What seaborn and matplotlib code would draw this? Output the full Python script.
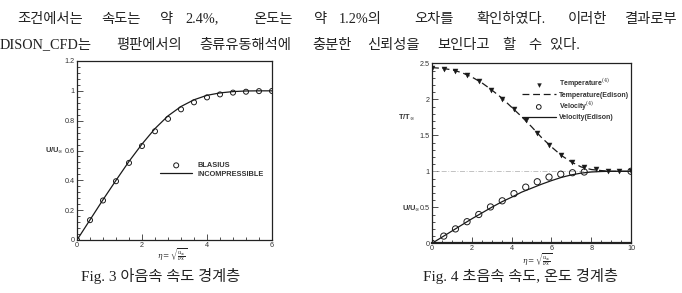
import numpy as np
import pandas as pd
import matplotlib
matplotlib.use("Agg")
import matplotlib.pyplot as plt
import seaborn as sns
from matplotlib.ticker import MultipleLocator

# ---------------- data: Fig. 3 (subsonic velocity boundary layer) ----------------
blasius_eta = [0.0, 0.4, 0.8, 1.2, 1.6, 2.0, 2.4, 2.8, 3.2, 3.6, 4.0, 4.4, 4.8, 5.2, 5.6, 6.0]
blasius_u = [0.0, 0.133, 0.265, 0.394, 0.517, 0.630, 0.729, 0.812, 0.876, 0.923, 0.956,
             0.976, 0.988, 0.994, 0.998, 0.999]
incomp_eta = [0.0, 0.4, 0.8, 1.2, 1.6, 2.0, 2.4, 2.8, 3.2, 3.6, 4.0, 4.4, 4.8, 5.2, 5.6, 6.0]
incomp_u = [0.0, 0.135, 0.270, 0.400, 0.527, 0.643, 0.747, 0.832, 0.895, 0.940, 0.970,
            0.986, 0.995, 0.999, 1.0, 1.0]

# ---------------- data: Fig. 4 (supersonic velocity / temperature) ----------------
temp_ref_eta = [0.0, 0.59, 1.18, 1.76, 2.35, 2.94, 3.53, 4.12, 4.71, 5.29, 5.88, 6.47,
                7.06, 7.65, 8.24, 8.82, 9.41, 10.0]
temp_ref = [2.435, 2.42, 2.39, 2.34, 2.25, 2.13, 2.00, 1.865, 1.71, 1.53, 1.37, 1.23,
            1.125, 1.06, 1.03, 1.01, 1.01, 1.0]
temp_cfd_eta = [0.0, 0.5, 1.0, 1.5, 2.0, 2.5, 3.0, 3.5, 4.0, 4.5, 5.0, 5.5, 6.0, 6.5,
                7.0, 7.5, 8.0, 8.5, 9.0, 9.5, 10.0]
temp_cfd = [2.44, 2.43, 2.41, 2.37, 2.31, 2.23, 2.13, 2.02, 1.89, 1.76, 1.62, 1.47, 1.34,
            1.22, 1.13, 1.06, 1.025, 1.01, 1.0, 1.0, 1.0]
vel_ref_eta = [0.0, 0.59, 1.18, 1.76, 2.35, 2.94, 3.53, 4.12, 4.71, 5.29, 5.88, 6.47,
               7.06, 7.65, 10.0]
vel_ref = [0.0, 0.10, 0.20, 0.30, 0.40, 0.505, 0.59, 0.69, 0.78, 0.855, 0.92, 0.96,
           0.98, 0.99, 1.0]
vel_cfd_eta = [0.0, 1.0, 2.0, 3.0, 3.5, 4.0, 4.5, 5.0, 5.5, 6.0, 6.5, 7.0, 7.5, 8.0,
               8.5, 9.0, 10.0]
vel_cfd = [0.0, 0.17, 0.34, 0.50, 0.575, 0.64, 0.71, 0.765, 0.82, 0.87, 0.915, 0.95,
           0.975, 0.99, 0.997, 1.0, 1.0]

# ---------------- text ----------------
line1_words = ["조건에서는", "속도는", "약", "2.4%,", "온도는", "약", "1.2%의", "오차를",
               "확인하였다.", "이러한", "결과로부"]
line1_x = [17, 101, 159, 185, 253, 313, 339, 414, 476, 568, 624]
line2_words = ["DISON_CFD는", "평판에서의", "층류유동해석에", "충분한", "신뢰성을",
               "보인다고", "할", "수", "있다."]
line2_x = [0, 116, 199, 312, 367, 437, 502, 528, 550]
caption3 = "Fig. 3 아음속 속도 경계층"
caption4 = "Fig. 4 초음속 속도, 온도 경계층"

sns.set_theme(style="ticks")
plt.rcParams["font.family"] = ["Liberation Sans", "DejaVu Sans"]
plt.rcParams["mathtext.fontset"] = "dejavuserif"

W, H = 682, 293
fig = plt.figure(figsize=(W / 100, H / 100), dpi=100)
fig.patch.set_facecolor("white")

ax1 = fig.add_axes([77 / W, 1 - 240 / H, 195 / W, 179 / H])
ax2 = fig.add_axes([432 / W, 1 - 243.3 / H, 199 / W, 180 / H])

ink = "#1a1a1a"

# ---- Fig 3 ----
df_bl = pd.DataFrame({"eta": blasius_eta, "u": blasius_u})
df_in = pd.DataFrame({"eta": incomp_eta, "u": incomp_u})
sns.lineplot(data=df_in, x="eta", y="u", ax=ax1, color=ink, lw=0.9,
             label="INCOMPRESSIBLE", legend=False, zorder=2)
sns.scatterplot(data=df_bl, x="eta", y="u", ax=ax1, marker="o", s=13, color=ink,
                facecolor="none", edgecolor=ink, linewidth=0.7, label="BLASIUS",
                legend=False, zorder=3)
ax1.set_xlim(0, 6)
ax1.set_ylim(0, 1.2)
ax1.xaxis.set_minor_locator(MultipleLocator(0.4))
ax1.yaxis.set_minor_locator(MultipleLocator(0.04))
ax1.set_yticks([0, 0.2, 0.4, 0.6, 0.8, 1.0, 1.2])
ax1.set_yticklabels(["0", "0.2", "0.4", "0.6", "0.8", "1", "1.2"])
ax1.set_xticks([0, 2, 4, 6])
ax1.set_xticklabels(["0", "2", "4", "6"])

h, l = ax1.get_legend_handles_labels()
order = [l.index("BLASIUS"), l.index("INCOMPRESSIBLE")]
ax1.legend([h[i] for i in order], [l[i] for i in order], loc="upper left",
           bbox_to_anchor=(0.4256, 0.435), frameon=False, borderpad=0, borderaxespad=0,
           handlelength=4.4, handletextpad=0.7, labelspacing=0.22,
           prop={"family": "Liberation Sans", "weight": "bold", "size": 5.3},
           labelcolor="#333")

# ---- Fig 4 ----
df_tr = pd.DataFrame({"eta": temp_ref_eta, "v": temp_ref})
df_tc = pd.DataFrame({"eta": temp_cfd_eta, "v": temp_cfd})
df_vr = pd.DataFrame({"eta": vel_ref_eta, "v": vel_ref})
df_vc = pd.DataFrame({"eta": vel_cfd_eta, "v": vel_cfd})
ax2.axhline(1.0, color="#b8b8b8", lw=0.6, ls=(0, (6, 2, 1, 2)), zorder=1)
sns.lineplot(data=df_tc, x="eta", y="v", ax=ax2, color=ink, lw=0.9,
             linestyle=(0, (5.5, 3)), label="Temperature(Edison)", legend=False, zorder=2)
sns.lineplot(data=df_vc, x="eta", y="v", ax=ax2, color=ink, lw=0.9,
             label="Velocity(Edison)", legend=False, zorder=2)
sns.scatterplot(data=df_tr, x="eta", y="v", ax=ax2, marker="v", s=13, color=ink,
                edgecolor=ink, linewidth=0.3, label="Temperature$^{(4)}$",
                legend=False, zorder=3)
sns.scatterplot(data=df_vr, x="eta", y="v", ax=ax2, marker="o", s=20, color=ink,
                facecolor="none", edgecolor=ink, linewidth=0.7, label="Velocity$^{(4)}$",
                legend=False, zorder=3)
ax2.set_xlim(0, 10)
ax2.set_ylim(0, 2.5)
ax2.xaxis.set_minor_locator(MultipleLocator(0.5))
ax2.yaxis.set_minor_locator(MultipleLocator(0.1))
ax2.set_xticks([0, 2, 4, 6, 8, 10])
ax2.set_xticklabels(["0", "2", "4", "6", "8", "10"])
ax2.set_yticks([0, 0.5, 1, 1.5, 2, 2.5])
ax2.set_yticklabels(["0", "0.5", "1", "1.5", "2", "2.5"])

h, l = ax2.get_legend_handles_labels()
want = ["Temperature$^{(4)}$", "Temperature(Edison)", "Velocity$^{(4)}$", "Velocity(Edison)"]
order = [l.index(w) for w in want]
ax2.legend([h[i] for i in order], [l[i] for i in order], loc="upper left",
           bbox_to_anchor=(0.452, 0.922), frameon=False, borderpad=0, borderaxespad=0,
           handlelength=4.8, handletextpad=0.5, labelspacing=0.16, markerscale=0.75,
           prop={"family": "Liberation Sans", "weight": "bold", "size": 5.05},
           labelcolor="#333")

# ---- common axis styling ----
for ax in (ax1, ax2):
    ax.set_facecolor("white")
    for sp in ax.spines.values():
        sp.set_visible(True)
        sp.set_color("#222")
        sp.set_linewidth(0.9)
    ax.tick_params(which="both", direction="in", top=False, right=False,
                   colors="#333", labelsize=5.2, width=0.6, pad=1.5)
    ax.tick_params(which="major", length=4)
    ax.tick_params(which="minor", length=2)
    ax.set_ylabel("")
    ax.set_xlabel(r"$\eta = \sqrt{\frac{u_\infty}{\nu x}}$", fontsize=5.3, color="#222")
ax2.spines["bottom"].set_linewidth(1.6)
ax1.xaxis.set_label_coords(0.49, -0.035)
ax1.xaxis.label.set_va("top")
ax2.xaxis.set_label_coords(0.53, -0.045)
ax2.xaxis.label.set_va("top")

lab_kw = dict(fontsize=5.3, fontweight="bold", color="#333", ha="right", va="center",
              family="Liberation Sans")
ax1.text(-0.07, 0.5, r"U/U$_\infty$", transform=ax1.transAxes, **lab_kw)
ax2.text(-0.085, 0.70, r"T/T$_\infty$", transform=ax2.transAxes, **lab_kw)
ax2.text(-0.06, 0.196, r"U/U$_\infty$", transform=ax2.transAxes, **lab_kw)

# ---- body text and captions ----
txt_kw = dict(fontsize=10.3, color="#222", va="center", ha="left",
              family=["Liberation Serif", "Noto Sans CJK KR"])
for w, x in zip(line1_words, line1_x):
    fig.text(x / W, 1 - 19 / H, w, **txt_kw)
for w, x in zip(line2_words, line2_x):
    fig.text(x / W, 1 - 45 / H, w, **txt_kw)
cap_kw = dict(fontsize=11, color="#222", va="center", ha="center",
              family=["Liberation Serif", "Noto Sans CJK KR"])
fig.text(161 / W, 1 - 276 / H, caption3, **cap_kw)
fig.text(520 / W, 1 - 276 / H, caption4, **cap_kw)

fig.savefig("out.png", dpi=100, facecolor="white")
